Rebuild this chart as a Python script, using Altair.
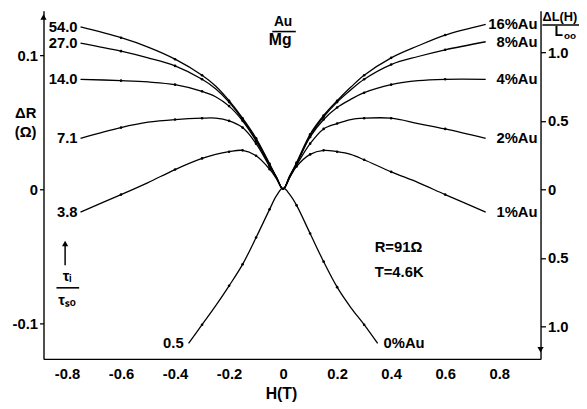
import altair as alt
import pandas as pd

# ---------------- data ----------------
H_GRID = [-0.75, -0.6, -0.5, -0.4, -0.3, -0.25, -0.2, -0.15, -0.1, -0.05, -0.025, 0.0,
          0.025, 0.05, 0.1, 0.15, 0.2, 0.25, 0.3, 0.4, 0.5, 0.6, 0.75]

c54 = [0.121, 0.113, 0.106, 0.097, 0.085, 0.077, 0.066, 0.053, 0.038, 0.019, 0.009, 0.0,
       0.010, 0.020, 0.041, 0.055, 0.066, 0.076, 0.085, 0.098, 0.107, 0.115, 0.123]
c27 = [0.109, 0.103, 0.098, 0.092, 0.082, 0.075, 0.065, 0.052, 0.037, 0.018, 0.009, 0.0,
       0.010, 0.019, 0.040, 0.054, 0.065, 0.074, 0.082, 0.093, 0.099, 0.104, 0.110]
c14 = [0.082, 0.081, 0.080, 0.078, 0.073, 0.069, 0.062, 0.051, 0.036, 0.018, 0.009, 0.0,
       0.010, 0.019, 0.039, 0.052, 0.061, 0.067, 0.072, 0.078, 0.081, 0.082, 0.082]
c7 = [0.038, 0.046, 0.050, 0.052, 0.053, 0.053, 0.051, 0.046, 0.034, 0.017, 0.009, 0.0,
      0.009, 0.018, 0.034, 0.045, 0.049, 0.052, 0.053, 0.053, 0.049, 0.045, 0.038]
c3 = [-0.017, -0.004, 0.005, 0.0147, 0.023, 0.026, 0.028, 0.029, 0.025, 0.015, 0.008, 0.0,
      0.009, 0.017, 0.026, 0.029, 0.028, 0.026, 0.022, 0.013, 0.005, -0.004, -0.017]

H05 = [-0.35, -0.3, -0.25, -0.2, -0.15, -0.1, -0.05, -0.025, 0.0, 0.025, 0.05, 0.1, 0.15,
       0.2, 0.25, 0.3, 0.35]
c05 = [-0.115, -0.101, -0.087, -0.072, -0.056, -0.036, -0.015, -0.005, 0.001, -0.004, -0.012,
       -0.033, -0.054, -0.073, -0.088, -0.101, -0.115]

LEFT_LABELS = ["54.0", "27.0", "14.0", "7.1", "3.8"]
RIGHT_LABELS = ["16%Au", "8%Au", "4%Au", "2%Au", "1%Au"]
SERIES = [c54, c27, c14, c7, c3]

DOT_H = [-0.6, -0.4, -0.3, -0.2, -0.15, -0.1, -0.05, 0.05, 0.1, 0.15, 0.2, 0.3, 0.4, 0.6]

X_DOMAIN = [-0.887, 0.953]
Y_DOMAIN = [-0.1265, 0.1331]
R_DOMAIN = [-1.237, 1.302]
X_TICKS = [-0.8, -0.6, -0.4, -0.2, 0.0, 0.2, 0.4, 0.6, 0.8]
Y_TICKS = [-0.1, 0.0, 0.1]
R_TICKS = [-1.0, -0.5, 0.0, 0.5, 1.0]

FONT = "Liberation Sans"

# ---------------- tables ----------------
rows = []
dotset = {round(h, 3) for h in DOT_H}
for name, vals in zip(LEFT_LABELS, SERIES):
    for h, v in zip(H_GRID, vals):
        rows.append({"curve": name, "H": h, "dR": v, "dot": round(h, 3) in dotset})
for h, v in zip(H05, c05):
    rows.append({"curve": "0.5", "H": h, "dR": v, "dot": round(h, 3) in dotset})
df = pd.DataFrame(rows)

lbl_left = pd.DataFrame({"text": LEFT_LABELS,
                         "H": [H_GRID[0]] * 5,
                         "dR": [s[0] for s in SERIES]})
lbl_right = pd.DataFrame({"text": RIGHT_LABELS,
                          "H": [X_DOMAIN[1]] * 5,
                          "dR": [s[-1] for s in SERIES]})
lbl_05 = pd.DataFrame({"text": ["0.5"], "H": [H05[0]], "dR": [c05[0]]})
lbl_0 = pd.DataFrame({"text": ["0%Au"], "H": [H05[-1]], "dR": [c05[-1]]})

ann_c = pd.DataFrame({
    "text": ["Au", "Mg", "ΔR", "(Ω)", "τᵢ", "τₛₒ", "H(T)"],
    "H": [0.0, -0.011, -0.953, -0.953, -0.80, -0.80, -0.006],
    "dR": [0.1246, 0.1110, 0.0566, 0.0426, -0.0650, -0.0830, -0.1530],
    "fs": [14, 16, 15, 15, 15, 15, 16],
})
ann_l = pd.DataFrame({
    "text": ["R=91Ω", "T=4.6K", "ΔL(H)", "L", "oo"],
    "H": [0.339, 0.339, 0.960, 1.005, 1.040],
    "dR": [-0.0434, -0.0618, 0.1287, 0.1176, 0.1140],
    "fs": [15, 15, 13, 14, 10],
})
bars = pd.DataFrame({"H": [-0.040, -0.839, 0.960], "H2": [0.047, -0.755, 1.10],
                     "dR": [0.1176, -0.0735, 0.1225]})
shaft = pd.DataFrame({"H": [-0.807], "dR": [-0.0566], "dR2": [-0.041]})
heads = pd.DataFrame({"H": [X_DOMAIN[0], -0.807], "dR": [0.1285, -0.0405]})
right_head = pd.DataFrame({"H": [X_DOMAIN[1]], "r": [-1.17]})

# ---------------- scales / axes ----------------
xs = alt.Scale(domain=X_DOMAIN, nice=False, zero=False)
ys = alt.Scale(domain=Y_DOMAIN, nice=False, zero=False)
rs = alt.Scale(domain=R_DOMAIN, nice=False, zero=False)

common = dict(labelFont=FONT, labelFontSize=15, labelFontWeight="bold", labelColor="black",
              domainColor="black", domainWidth=1.4, tickColor="black", tickWidth=1.3,
              grid=False, title=None, labelFlush=False)
x_axis = alt.Axis(values=X_TICKS, ticks=False, labelPadding=8,
                  labelExpr="datum.value == 0 ? '0' : (datum.value < 0 ? '-' : '') + format(abs(datum.value), '.1f')",
                  **common)
y_axis = alt.Axis(values=Y_TICKS, tickSize=4, labelPadding=2,
                  labelExpr="datum.value == 0 ? '0' : (datum.value < 0 ? '-' : '') + format(abs(datum.value), '.1f')",
                  **common)
r_axis = alt.Axis(values=R_TICKS, tickSize=5, labelPadding=2, orient="right",
                  labelExpr="datum.value == 0 ? '0' : format(abs(datum.value), '.1f')",
                  **common)

X = lambda f="H": alt.X(f"{f}:Q", scale=xs, axis=x_axis)
Y = lambda f="dR": alt.Y(f"{f}:Q", scale=ys, axis=y_axis)

lines = alt.Chart(df).mark_line(color="black", strokeWidth=1.3, interpolate="catmull-rom").encode(
    x=X(), y=Y(), detail="curve:N")
dots = alt.Chart(df).transform_filter("datum.dot").mark_circle(color="black", size=7, opacity=1).encode(
    x=X(), y=Y())

def txt(data, align, dx=0, size=None):
    kw = dict(align=align, baseline="middle", font=FONT, fontWeight="bold", color="black", dx=dx)
    if size is not None:
        kw["fontSize"] = size
        return alt.Chart(data).mark_text(**kw).encode(x=X(), y=Y(), text="text:N")
    return alt.Chart(data).mark_text(**kw).encode(
        x=X(), y=Y(), text="text:N", size=alt.Size("fs:Q", scale=None, legend=None))

t_left = txt(lbl_left, "right", dx=-3, size=15)
t_right = txt(lbl_right, "right", dx=-3, size=15)
t_05 = txt(lbl_05, "right", dx=-5, size=15)
t_0 = txt(lbl_0, "left", dx=6, size=15)
t_ac = txt(ann_c, "center")
t_al = txt(ann_l, "left")

r_bars = alt.Chart(bars).mark_rule(color="black", strokeWidth=1.6).encode(
    x=X(), x2="H2:Q", y=Y())
r_shaft = alt.Chart(shaft).mark_rule(color="black", strokeWidth=1.5).encode(
    x=X(), y=Y(), y2="dR2:Q")
p_heads = alt.Chart(heads).mark_point(shape="triangle-up", filled=True, color="black",
                                      size=40, opacity=1).encode(x=X(), y=Y())

main = alt.layer(lines, dots, t_left, t_right, t_05, t_0, t_ac, t_al, r_bars, r_shaft, p_heads)

right = alt.Chart(right_head).mark_point(shape="triangle-down", filled=True, color="black",
                                          size=40, opacity=1).encode(
    x=X(), y=alt.Y("r:Q", scale=rs, axis=r_axis))

chart = alt.layer(main, right).resolve_scale(y="independent").properties(
    width=504, height=353,
    autosize=alt.AutoSizeParams(type="none"),
    padding={"left": 36, "top": 0, "right": 39, "bottom": 48},
    background="white",
).configure_view(stroke=None)

chart.save("out.html", embed_options={"renderer": "svg", "actions": False})
